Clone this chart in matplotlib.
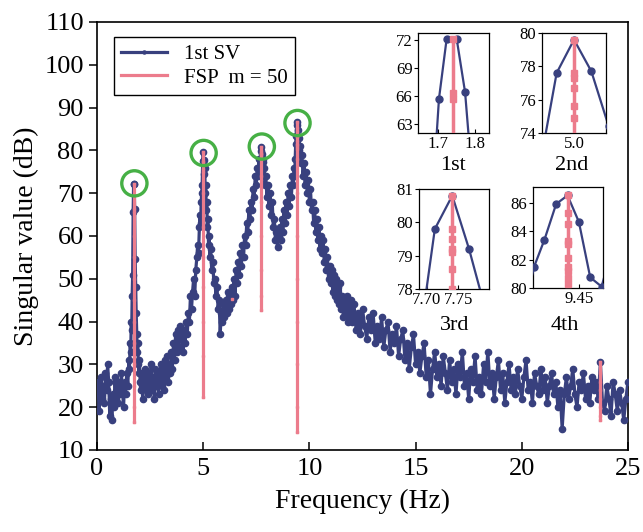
import numpy as np
import matplotlib
matplotlib.use("Agg")
import matplotlib.pyplot as plt

plt.rcParams['font.family'] = ['Liberation Serif', 'DejaVu Serif']

# ---- 1st singular value spectrum ----
freq_a = np.round(np.arange(0.0, 1.46, 0.05), 3)
sv_a = [24, 26, 19, 23, 27, 22, 25, 21, 28, 24, 30, 26, 18, 22, 17, 23, 20, 27, 22, 25,
        21, 26, 23, 28, 24, 20, 26, 23, 28, 25]

freq_p1 = [1.50, 1.53, 1.56, 1.59, 1.61, 1.635, 1.655, 1.678, 1.702, 1.723, 1.750, 1.773,
           1.797, 1.82, 1.845, 1.87, 1.895, 1.92, 1.945, 1.97, 2.0, 2.03]
sv_p1 = [31, 29, 35, 33, 40, 38, 46, 50.9, 65.7, 72.2, 72.2, 66.4,
         54.7, 48, 42, 37, 33, 35, 30, 28, 31, 26]

freq_b = np.round(np.arange(2.05, 3.46, 0.05), 3)
sv_b = [24, 28, 22, 26, 29, 24, 27, 23, 28, 25, 30, 24, 27, 22, 29, 25, 28, 23, 27, 30,
        25, 29, 24, 31, 27, 32, 26, 30, 28]

freq_c = np.round(np.arange(3.5, 4.46, 0.05), 3)
sv_c = [33, 29, 35, 31, 37, 33, 38, 34, 39, 36, 36, 33, 38, 35, 40, 37, 42, 40, 46, 43]

freq_p2 = [4.50, 4.55, 4.60, 4.65, 4.70, 4.74, 4.78, 4.82, 4.85, 4.88, 4.905, 4.927,
           4.951, 4.9756, 5.0, 5.0244, 5.0488, 5.073, 5.097, 5.12, 5.145, 5.17, 5.195,
           5.22, 5.25, 5.28, 5.31, 5.35, 5.40, 5.45, 5.50]
sv_p2 = [47, 50, 46, 52, 55, 58, 56, 62, 65, 63, 68, 70,
         71.8, 77.6, 79.6, 77.7, 74.4, 76, 70, 72, 66, 68, 62,
         64, 58, 60, 55, 57, 52, 54, 49]

freq_d = np.round(np.arange(5.55, 7.36, 0.05), 3)
sv_d = [50, 46, 48, 43, 45, 37, 42, 40, 44, 41, 45, 42, 47, 43, 46, 44, 48, 45, 50, 46,
        52, 49, 54, 51, 56, 53, 58, 55, 60, 58, 63, 61, 66, 64, 68, 66, 71]

freq_p3 = [7.40, 7.45, 7.50, 7.55, 7.58, 7.62, 7.65, 7.686, 7.713, 7.7405, 7.767, 7.794,
           7.82, 7.85, 7.88, 7.91, 7.95, 8.00]
sv_p3 = [69, 74, 72, 76, 74, 78, 75, 76.1, 79.8, 80.8, 79.2, 77.3,
         78, 74, 76, 72, 74, 69]

freq_e = np.round(np.arange(8.05, 8.96, 0.05), 3)
sv_e = [72, 67, 70, 65, 68, 62, 64, 59, 61, 57.5, 60, 62, 59, 64, 61, 66, 63, 68, 65]

freq_p4 = [9.00, 9.05, 9.10, 9.15, 9.20, 9.25, 9.28, 9.305, 9.33, 9.354, 9.376, 9.401,
           9.425, 9.449, 9.473, 9.497, 9.521, 9.545, 9.57, 9.60, 9.65, 9.70]
sv_p4 = [70, 67, 72, 69, 74, 72, 76, 74, 78, 81.48, 83.4, 85.95,
         86.55, 84.68, 80.75, 80.1, 83, 79, 81, 77, 79, 74]

freq_f = np.round(np.arange(9.75, 11.96, 0.05), 3)
sv_f = [77, 72, 75, 70, 73, 68, 71, 66, 68, 63, 66, 61, 64, 59, 62, 57, 60, 56, 59, 54,
        57, 52, 55, 50, 53, 49, 52, 47, 51, 46, 50, 45, 48, 44, 49, 43, 46, 41, 45, 42,
        46, 40, 44, 41, 45]

freq_g = np.round(np.arange(12.0, 25.06, 0.1), 2)
sv_g = [40, 44, 38, 42, 37, 43, 39, 36, 41, 38,
        42, 35, 39, 36, 41, 34, 38, 40, 33, 37,
        35, 39, 32, 36, 38, 31, 35, 29, 34, 37,
        30, 33, 28, 32, 35, 27, 31, 23, 29, 33,
        27, 30, 25, 32, 28, 24, 31, 26, 29, 23,
        30, 27, 33, 25, 28, 22, 29, 26, 32, 24,
        27, 23, 30, 26, 33, 25, 28, 22, 27, 31,
        24, 28, 21, 26, 30, 24, 27, 23, 29, 25,
        22, 27, 31, 24, 26, 21, 28, 25, 23, 29,
        24, 27, 21, 25, 28, 23, 26, 20, 24, 15,
        23, 27, 22, 25, 29, 23, 20, 26, 24, 28,
        22, 25, 21, 27, 24, 26, 22, 30.5, 21, 19,
        25, 22, 18, 26, 23, 19, 24, 21, 17, 22, 26]

sv_freq = np.concatenate([freq_a, freq_p1, freq_b, freq_c, freq_p2, freq_d, freq_p3,
                          freq_e, freq_p4, freq_f, freq_g])
sv_vals = np.concatenate([sv_a, sv_p1, sv_b, sv_c, sv_p2, sv_d, sv_p3,
                          sv_e, sv_p4, sv_f, sv_g])

# ---- FSP m = 50 points (vertical bundles at the identified peaks) ----
fsp_freqs = [1.739, 5.0, 7.7405, 9.425, 23.68, 6.36]
fsp_vals = [
    [72.2, 66.3, 65.7, 60, 55, 50, 45, 40, 35, 30, 25, 20, 16.6],
    [79.6, 77.6, 77.3, 76.7, 75.65, 74.9, 70, 62, 55, 48, 40, 32, 22.5],
    [80.8, 79.8, 79.5, 79.2, 79.1, 78.6, 78.0, 74, 68, 60, 52, 46, 42.7],
    [86.55, 85.3, 84.5, 83.3, 83.1, 82.1, 81.5, 81.2, 80.7, 80.3, 78, 70, 60, 50, 40,
     30, 20, 14.3],
    [30.5, 28, 26, 24, 22, 20, 18, 17],
    [45.3],
]

peak_freqs = [1.76, 5.02, 7.76, 9.44]
peak_vals = [72.3, 79.4, 80.9, 86.4]

inset_names = ['1st', '2nd', '3rd', '4th']
inset_xlims = [(1.645, 1.838), (4.955, 5.045), (7.688, 7.7985), (9.352, 9.50)]
inset_ylims = [(62, 72.8), (74, 80), (78, 81), (80, 87.15)]
inset_xticks = [[1.7, 1.8], [5.0], [7.70, 7.75], [9.45]]
inset_xticklabels = [['1.7', '1.8'], ['5.0'], ['7.70', '7.75'], ['9.45']]
inset_yticks = [[63, 66, 69, 72], [74, 76, 78, 80], [78, 79, 80, 81], [80, 82, 84, 86]]

BLUE = '#38407E'
PINK = '#EC7C8C'
GREEN = '#46B045'

W, H = 643, 532
fig = plt.figure(figsize=(W / 100, H / 100), dpi=100)


def px_rect(x0, y0, x1, y1):
    return [x0 / W, 1 - y1 / H, (x1 - x0) / W, (y1 - y0) / H]


ax = fig.add_axes(px_rect(97, 22, 628, 450))
ax.plot(sv_freq, sv_vals, color=BLUE, lw=2.3, marker='o', ms=4.5, label='1st SV', zorder=3)
for i, (f, v) in enumerate(zip(fsp_freqs, fsp_vals)):
    ax.plot(np.full(len(v), f), v, color=PINK, lw=2.3, marker='s', ms=1.5, zorder=4,
            label='FSP  m = 50' if i == 0 else None)
ax.scatter(peak_freqs, peak_vals, s=330, facecolors='none', edgecolors=GREEN,
           linewidths=2.4, zorder=5)

ax.set_xlim(0, 25)
ax.set_ylim(10, 110)
ax.set_xticks(range(0, 26, 5))
ax.set_yticks(range(10, 111, 10))
ax.tick_params(axis='x', direction='in', length=6, width=1.1, labelsize=19, pad=6)
ax.tick_params(axis='y', direction='out', length=6, width=1.1, labelsize=19)
for s in ax.spines.values():
    s.set_linewidth(1.2)
ax.set_xlabel('Frequency (Hz)', fontsize=20, labelpad=6)
ax.set_ylabel('Singular value (dB)', fontsize=20, labelpad=4)

leg = ax.legend(loc='upper left', bbox_to_anchor=(0.032, 0.965), borderaxespad=0,
                fontsize=15, frameon=True, fancybox=False, edgecolor='black',
                framealpha=1, handlelength=2.2, markerscale=0.5, borderpad=0.35,
                labelspacing=0.2, handletextpad=0.8)
leg.get_frame().set_linewidth(1.0)

inset_rects = [(418, 33, 489, 133), (542, 33, 606, 133),
               (419, 189, 489, 289), (533, 187, 603, 288)]
label_pos = [(453, 165), (572, 165), (455, 325), (565, 325)]

for k in range(4):
    ia = fig.add_axes(px_rect(*inset_rects[k]))
    ia.plot(sv_freq, sv_vals, color=BLUE, lw=1.6, marker='o', ms=5, zorder=3)
    for f, v in zip(fsp_freqs, fsp_vals):
        ia.plot(np.full(len(v), f), v, color=PINK, lw=2.5, marker='s', ms=4, zorder=4)
    ia.set_xlim(*inset_xlims[k])
    ia.set_ylim(*inset_ylims[k])
    ia.set_xticks(inset_xticks[k])
    ia.set_xticklabels(inset_xticklabels[k])
    ia.set_yticks(inset_yticks[k])
    ia.tick_params(axis='x', direction='in', length=3, labelsize=12, pad=2)
    ia.tick_params(axis='y', direction='out', length=3, labelsize=12, pad=1)
    for s in ia.spines.values():
        s.set_linewidth(0.9)
    fig.text(label_pos[k][0] / W, 1 - label_pos[k][1] / H, inset_names[k],
             fontsize=16, ha='center', va='center')

fig.savefig('out.png', dpi=100)
